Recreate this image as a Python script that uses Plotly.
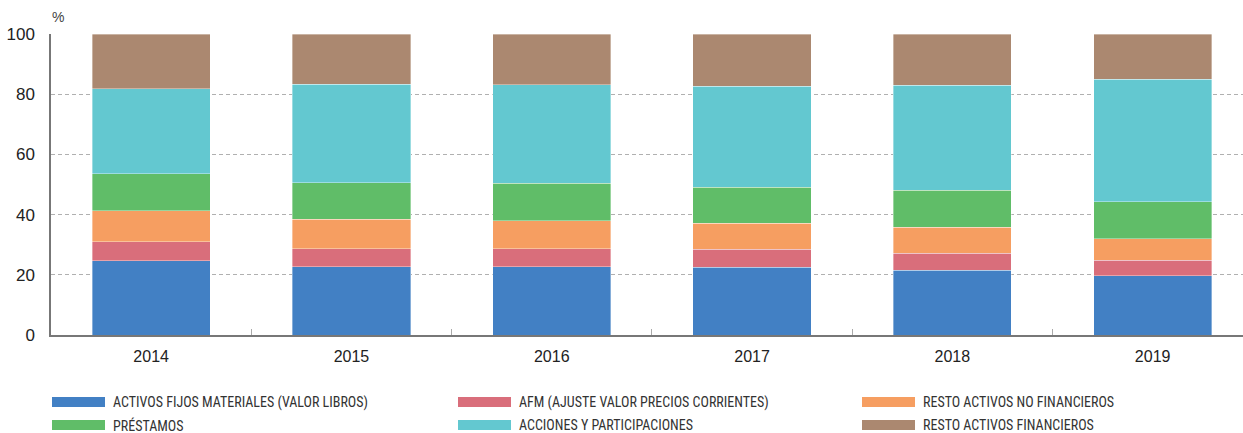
import plotly.graph_objects as go

years = ["2014", "2015", "2016", "2017", "2018", "2019"]

series_names = [
    "ACTIVOS FIJOS MATERIALES (VALOR LIBROS)",
    "AFM (AJUSTE VALOR PRECIOS CORRIENTES)",
    "RESTO ACTIVOS NO FINANCIEROS",
    "PRÉSTAMOS",
    "ACCIONES Y PARTICIPACIONES",
    "RESTO ACTIVOS FINANCIEROS",
]

activos_fijos = [24.7, 22.7, 22.7, 22.5, 21.5, 19.7]
afm_ajuste = [6.3, 6.0, 5.9, 6.0, 5.6, 5.1]
resto_no_fin = [10.3, 9.8, 9.4, 8.7, 8.7, 7.1]
prestamos = [12.3, 12.1, 12.4, 11.9, 12.3, 12.4]
acciones = [28.2, 32.7, 32.7, 33.5, 34.9, 40.7]
resto_fin = [18.2, 16.7, 16.9, 17.4, 17.0, 15.0]

series_values = [activos_fijos, afm_ajuste, resto_no_fin, prestamos, acciones, resto_fin]
colors = ["#4280C4", "#D96E7B", "#F69E61", "#60BD68", "#63C8D0", "#AB8870"]

W, H = 1243, 433
ML, MT, MB = 51, 34, 98
PW = W - ML
PH = H - MT - MB

fig = go.Figure()
for name, vals, col in zip(series_names, series_values, colors):
    fig.add_trace(go.Bar(
        x=years, y=vals, name=name,
        marker=dict(color=col, line=dict(color="rgba(255,255,255,0.6)", width=0.6)),
        width=0.59, showlegend=False,
    ))

# Legend drawn as wide swatches with labels, three columns by two rows
legend_cols_px = [52, 458, 862]
legend_rows_px = [402, 425]
shapes = []
annotations = []
for i in range(len(series_names)):
    r, c = divmod(i, 3)
    x0 = (legend_cols_px[c] - ML) / PW
    x1 = (legend_cols_px[c] + 53 - ML) / PW
    yc = (MT + PH - legend_rows_px[r]) / PH
    hh = 5 / PH
    shapes.append(dict(type="rect", xref="paper", yref="paper",
                       x0=x0, x1=x1, y0=yc - hh, y1=yc + hh,
                       fillcolor=colors[i], line=dict(width=0)))
    annotations.append(dict(xref="paper", yref="paper",
                            x=(legend_cols_px[c] + 59 - ML) / PW, y=yc,
                            xanchor="left", yanchor="middle", showarrow=False,
                            text=series_names[i],
                            font=dict(family="Liberation Sans Narrow, Roboto Condensed, Arial Narrow, Roboto",
                                      size=14, color="#333333")))

annotations.append(dict(xref="paper", yref="paper", x=(50 - ML) / PW, y=(MT + PH - 17) / PH,
                        xanchor="left", yanchor="middle", showarrow=False, text="%",
                        font=dict(family="Liberation Sans, Arial", size=14, color="#444444")))

fig.update_layout(
    width=W, height=H,
    margin=dict(l=ML, r=0, t=MT, b=MB),
    barmode="stack",
    plot_bgcolor="white", paper_bgcolor="white",
    font=dict(family="Liberation Sans, Arial", color="#222222"),
    shapes=shapes, annotations=annotations,
    xaxis=dict(
        range=[-0.5, 5.451],
        showline=True, linecolor="#777777", linewidth=1.5,
        ticks="inside", tickson="boundaries", ticklen=6, tickcolor="#aaaaaa",
        showgrid=False, tickfont=dict(size=16, color="#222222"),
        ticklabelstandoff=6,
    ),
    yaxis=dict(
        range=[0, 100], dtick=20,
        showline=True, linecolor="#777777", linewidth=1.5,
        showgrid=True, gridcolor="#b0b0b0", griddash="4px,3px", gridwidth=1,
        zeroline=False, ticks="", ticklabelstandoff=11,
        tickfont=dict(size=17, color="#222222"),
    ),
)

fig.write_html("out.html")
